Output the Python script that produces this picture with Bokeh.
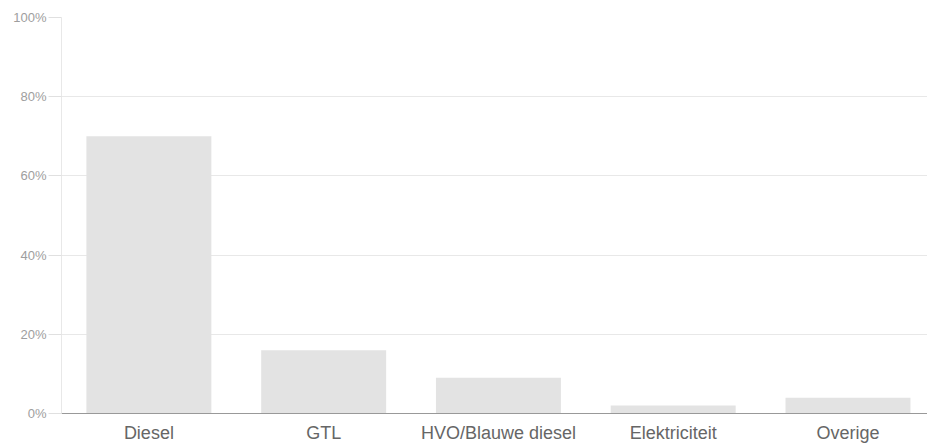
from bokeh.plotting import figure
from bokeh.models import Range1d, FixedTicker, PrintfTickFormatter, ColumnDataSource
from bokeh.embed import file_html
from bokeh.resources import INLINE

categories = ["Diesel", "GTL", "HVO/Blauwe diesel", "Elektriciteit", "Overige"]
values = [70, 16, 9, 2, 4]
y_ticks = [0, 20, 40, 60, 80, 100]

positions = list(range(len(categories)))
source = ColumnDataSource(dict(x=positions, top=values, name=categories))

p = figure(width=927, height=445, output_backend="svg", toolbar_location=None,
           x_range=Range1d(-0.5, 4.455), y_range=Range1d(0, 100),
           min_border_left=61, min_border_right=0, min_border_top=17, min_border_bottom=30)
p.outline_line_color = None
p.background_fill_color = "white"
p.border_fill_color = "white"

p.vbar(x="x", top="top", width=0.715, source=source, fill_color="#e3e3e3", line_color=None)

p.xgrid.visible = False
p.ygrid.grid_line_color = "#e8e8e8"
p.ygrid.ticker = FixedTicker(ticks=y_ticks)

ya = p.yaxis[0]
ya.ticker = FixedTicker(ticks=y_ticks)
ya.formatter = PrintfTickFormatter(format="%d%%")
ya.axis_line_color = "#e8e8e8"
ya.major_tick_line_color = "#e0e0e0"
ya.major_tick_out = 13
ya.major_tick_in = 0
ya.minor_tick_line_color = None
ya.major_label_standoff = 2
ya.major_label_text_font = "Liberation Sans"
ya.major_label_text_font_size = "13px"
ya.major_label_text_color = "#9e9e9e"

xa = p.xaxis[0]
xa.ticker = FixedTicker(ticks=positions)
xa.major_label_overrides = {i: c for i, c in zip(positions, categories)}
xa.axis_line_color = "#999999"
xa.major_tick_line_color = None
xa.minor_tick_line_color = None
xa.major_tick_out = 0
xa.major_label_standoff = 9
xa.major_label_text_font = "Liberation Sans"
xa.major_label_text_font_size = "18px"
xa.major_label_text_color = "#666666"

open("out.html", "w").write(file_html(p, INLINE))
